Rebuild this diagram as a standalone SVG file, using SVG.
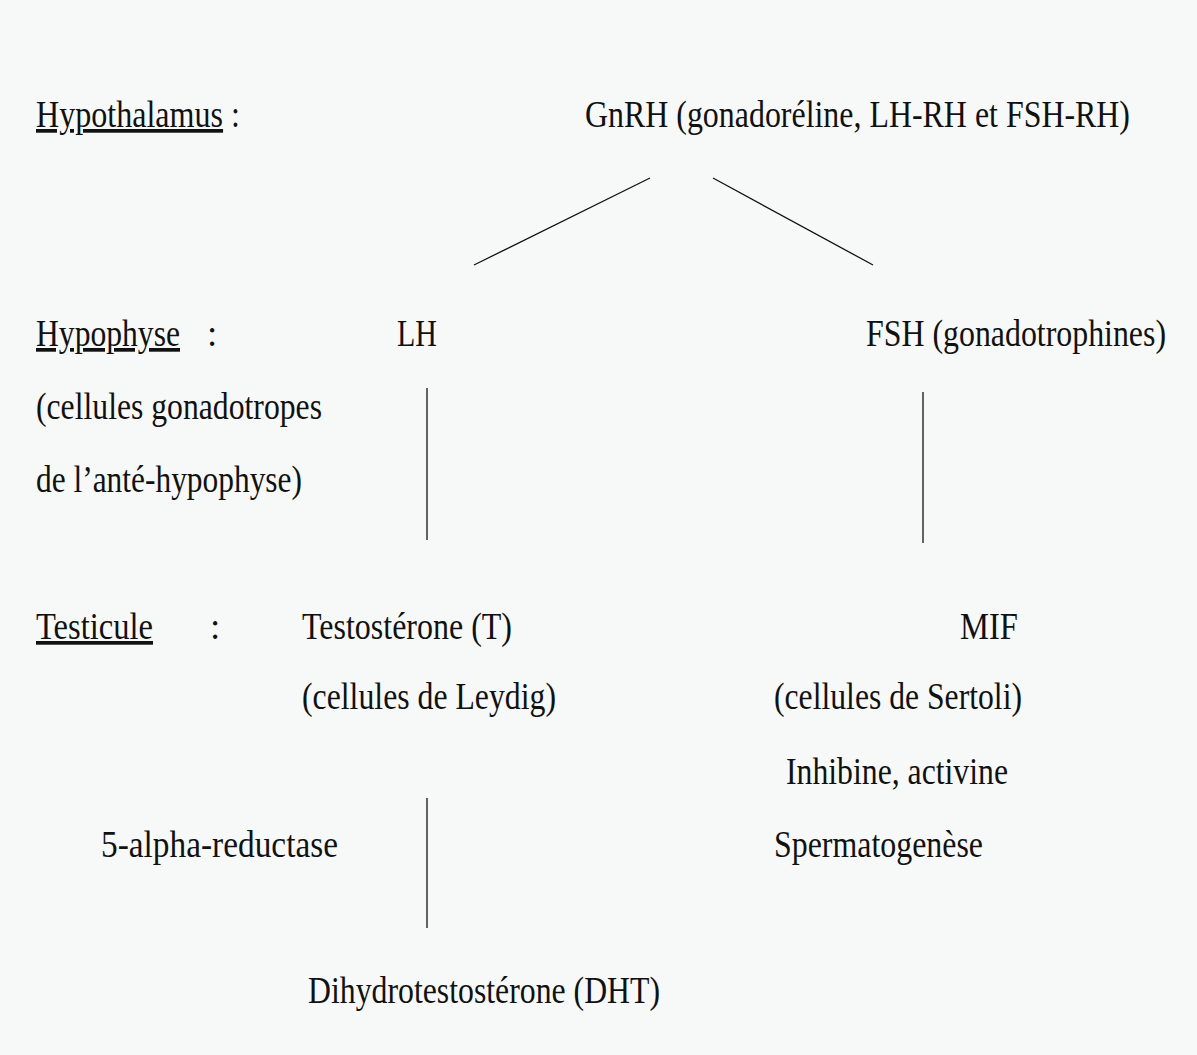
<svg xmlns="http://www.w3.org/2000/svg" width="1197" height="1055" viewBox="0 0 1197 1055">
<style>
text{font-family:"Liberation Serif","Times New Roman",serif;font-size:37px;fill:#111;}
.u{text-decoration:underline;}
.c line{stroke:#111;stroke-width:1.3;}
</style>
<rect width="1197" height="1055" fill="#f7f9f8"/>
<g class="c" id="connectors">
<line x1="650" y1="178" x2="474" y2="265"/>
<line x1="713" y1="178" x2="873" y2="265"/>
<line x1="427" y1="388" x2="427" y2="540"/>
<line x1="923" y1="392" x2="923" y2="543"/>
<line x1="427" y1="798" x2="427" y2="928"/>
</g>
<g id="lbl-hypothalamus"><text x="36" y="127" textLength="204" lengthAdjust="spacingAndGlyphs"><tspan class="u">Hypothalamus</tspan> :</text></g>
<g id="gnrh"><text x="585" y="127" textLength="545" lengthAdjust="spacingAndGlyphs">GnRH (gonadoréline, LH-RH et FSH-RH)</text></g>
<g id="lbl-hypophyse"><text x="36" y="346" class="u" textLength="144" lengthAdjust="spacingAndGlyphs">Hypophyse</text><text x="207" y="346">:</text>
<text x="36" y="419" textLength="286" lengthAdjust="spacingAndGlyphs">(cellules gonadotropes</text>
<text x="36" y="492" textLength="266" lengthAdjust="spacingAndGlyphs">de l’anté-hypophyse)</text></g>
<g id="lh"><text x="397" y="346" textLength="40" lengthAdjust="spacingAndGlyphs">LH</text></g>
<g id="fsh"><text x="866" y="346" textLength="300" lengthAdjust="spacingAndGlyphs">FSH (gonadotrophines)</text></g>
<g id="lbl-testicule"><text x="36" y="639" class="u" textLength="117" lengthAdjust="spacingAndGlyphs">Testicule</text><text x="210" y="639">:</text></g>
<g id="testosterone"><text x="302" y="639" textLength="210" lengthAdjust="spacingAndGlyphs">Testostérone (T)</text>
<text x="302" y="709" textLength="254" lengthAdjust="spacingAndGlyphs">(cellules de Leydig)</text></g>
<g id="mif"><text x="960" y="639" textLength="58" lengthAdjust="spacingAndGlyphs">MIF</text>
<text x="774" y="709" textLength="248" lengthAdjust="spacingAndGlyphs">(cellules de Sertoli)</text>
<text x="786" y="784" textLength="222" lengthAdjust="spacingAndGlyphs">Inhibine, activine</text>
<text x="774" y="857" textLength="209" lengthAdjust="spacingAndGlyphs">Spermatogenèse</text></g>
<g id="reductase"><text x="101" y="857" textLength="237" lengthAdjust="spacingAndGlyphs">5-alpha-reductase</text></g>
<g id="dht"><text x="308" y="1003" textLength="352" lengthAdjust="spacingAndGlyphs">Dihydrotestostérone (DHT)</text></g>
</svg>
